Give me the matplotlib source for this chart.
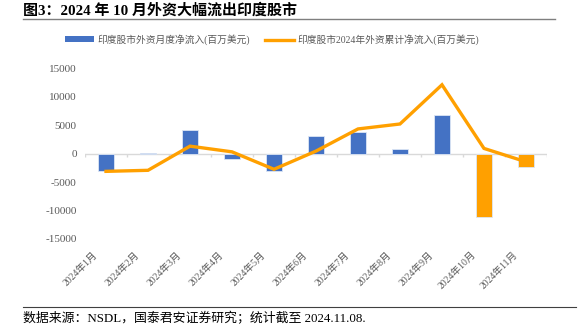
import numpy as np
import matplotlib.pyplot as plt
import matplotlib.transforms as mtransforms
from matplotlib.lines import Line2D
from matplotlib.patches import Patch

plt.rcParams['font.family'] = ['Liberation Serif', 'Noto Sans CJK SC']

months = ['2024年1月', '2024年2月', '2024年3月', '2024年4月', '2024年5月', '2024年6月',
          '2024年7月', '2024年8月', '2024年9月', '2024年10月', '2024年11月']
monthly = [-3100, 185, 4250, -1000, -3070, 3200, 3900, 870, 6900, -11200, -2350]
cumulative = [-3100, -2915, 1335, 335, -2735, 465, 4365, 5235, 12135, 935, -1415]
yticks = [-15000, -10000, -5000, 0, 5000, 10000, 15000]

blue = '#4472C4'
orange = '#FFA000'
grey = '#595959'

fig = plt.figure(figsize=(5.79, 3.29), dpi=100)
ax = fig.add_axes([0.1468, 0.2736, 0.7979, 0.5182])

x = np.arange(len(months))
colors = [blue] * 9 + [orange] * 2
ax.bar(x, monthly, width=0.4, color=colors, edgecolor='#DCE6F5', linewidth=0.6, zorder=2)
ax.plot(x, cumulative, color=orange, lw=2.4, zorder=3, solid_joinstyle='miter')

# zero line with category tick marks
ax.axhline(0, color='#D9D9D9', lw=1, zorder=1)
ax.vlines(np.arange(len(months) + 1) - 0.5, -530, 0, color='#D9D9D9', lw=1, zorder=1)

ax.set_xlim(-0.5, len(months) - 0.5)
ax.set_ylim(-15000, 15000)
ax.set_yticks(yticks)
ax.set_yticklabels([str(v) for v in yticks], fontsize=8, color=grey)
ax.set_xticks(x)
ax.set_xticklabels(months, rotation=45, ha='right', va='center', rotation_mode='anchor',
                   fontsize=7, color=grey)
ax.tick_params(axis='both', length=0)
ax.tick_params(axis='y', pad=6)
ax.tick_params(axis='x', pad=14)
shift = mtransforms.ScaledTranslation(-10 / 100, 5 / 100, fig.dpi_scale_trans)
for lab in ax.get_xticklabels():
    lab.set_transform(lab.get_transform() + shift)
for s in ax.spines.values():
    s.set_visible(False)

handles = [Patch(facecolor=blue, edgecolor='none'),
           Line2D([0], [0], color=orange, lw=2.4)]
labels = ['印度股市外资月度净流入(百万美元)', '印度股市2024年外资累计净流入(百万美元)']
fig.legend(handles, labels, loc='center', bbox_to_anchor=(0.47, 0.88), ncol=2,
           frameon=False, fontsize=7, labelcolor=grey, handlelength=3.0,
           handleheight=0.5, columnspacing=1.5, handletextpad=0.4)

fig.text(0.04, 0.97, '图3：2024 年 10 月外资大幅流出印度股市', fontsize=10.8,
         fontweight='bold', va='center', ha='left')
fig.add_artist(Line2D([0.04, 0.958], [0.942, 0.942], color='#7F7F7F', lw=1))
fig.add_artist(Line2D([0.04, 0.995], [0.067, 0.067], color='#404040', lw=0.8))
fig.text(0.04, 0.033, '数据来源：NSDL，国泰君安证券研究；统计截至 2024.11.08.',
         fontsize=9.3, va='center', ha='left')

fig.savefig('out.png', dpi=100)
